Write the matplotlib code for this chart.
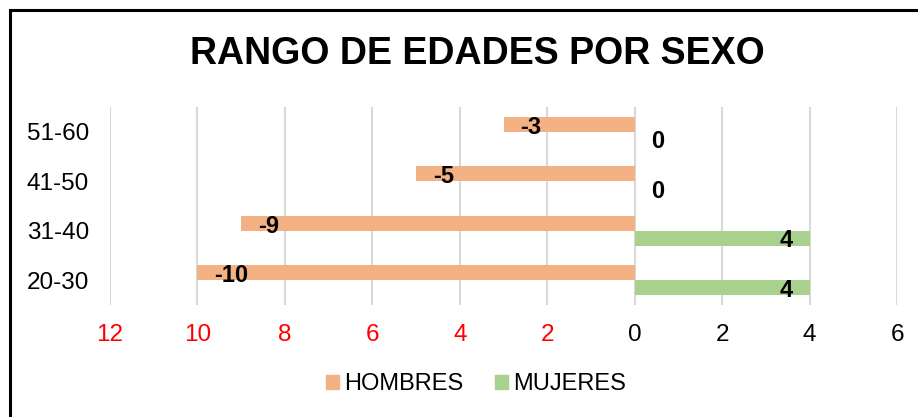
import matplotlib.pyplot as plt
from matplotlib.patches import Rectangle, Patch

plt.rcParams['font.family'] = ['Liberation Sans', 'DejaVu Sans']

rangos = ['20-30', '31-40', '41-50', '51-60']
hombres = [-10, -9, -5, -3]
mujeres = [4, 4, 0, 0]
ticks = [-12, -10, -8, -6, -4, -2, 0, 2, 4, 6]

c_h = '#F4B183'
c_m = '#A9D18E'

fig = plt.figure(figsize=(9.18, 4.17), dpi=100)
ax = fig.add_axes([110/918, 1-305/417, (897-110)/918, (305-107)/417])

y = list(range(len(rangos)))
alto = 0.3
ax.barh([i + alto/2 for i in y], hombres, height=alto, color=c_h, zorder=2)
ax.barh([i - alto/2 for i in y], mujeres, height=alto, color=c_m, zorder=2)

# etiquetas de datos
for i in y:
    ax.annotate(str(hombres[i]), xy=(hombres[i], i + alto/2), xytext=(12, -2),
                textcoords='offset points', ha='left', va='center',
                fontsize=17, fontweight='bold', zorder=3)
    if mujeres[i] > 0:
        ax.annotate(str(mujeres[i]), xy=(mujeres[i], i - alto/2), xytext=(-12, -2),
                    textcoords='offset points', ha='right', va='center',
                    fontsize=17, fontweight='bold', zorder=3)
    else:
        ax.annotate(str(mujeres[i]), xy=(mujeres[i], i - alto/2), xytext=(12, -2),
                    textcoords='offset points', ha='left', va='center',
                    fontsize=17, fontweight='bold', zorder=3)

ax.set_xlim(-12, 6)
ax.set_ylim(-0.5, 3.5)
ax.set_xticks(ticks)
ax.set_xticklabels([str(abs(t)) for t in ticks])
for lbl, t in zip(ax.get_xticklabels(), ticks):
    lbl.set_color('red' if t < 0 else 'black')
ax.set_yticks(y)
ax.set_yticklabels(rangos)
ax.tick_params(axis='x', length=0, pad=14, labelsize=17.5)
ax.tick_params(axis='y', length=0, pad=15, labelsize=17.5)
ax.grid(axis='x', color='#D9D9D9', linewidth=1.5, zorder=0)
ax.set_axisbelow(True)
for s in ax.spines.values():
    s.set_visible(False)

fig.text(477/918, 1-54/417, 'RANGO DE EDADES POR SEXO', ha='center', va='center',
         fontsize=27, fontweight='bold')

handles = [Patch(color=c_h, label='HOMBRES'), Patch(color=c_m, label='MUJERES')]
fig.legend(handles=handles, loc='center', bbox_to_anchor=(476/918, 1-384/417),
           ncol=2, frameon=False, fontsize=17, handlelength=0.55, handleheight=0.55,
           handletextpad=0.25, columnspacing=1.3)

# borde del grafico
fig.patches.append(Rectangle((10/918, -0.1), 1.1, 1-10/417+0.1, transform=fig.transFigure,
                             fill=False, edgecolor='black', linewidth=2.2))

fig.savefig('out.png', dpi=100)
